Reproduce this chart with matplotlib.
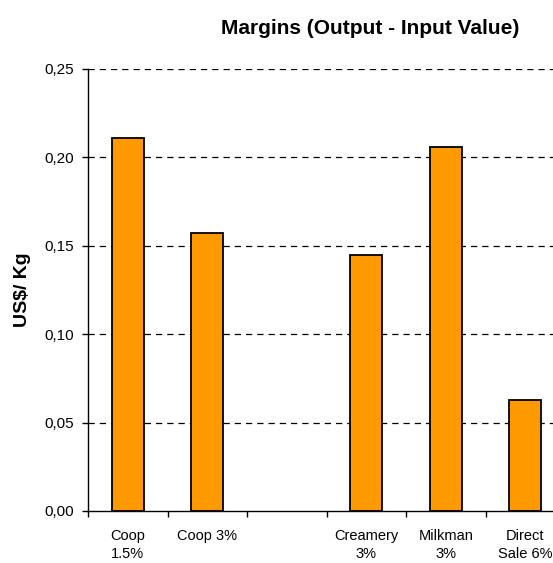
import numpy as np
import matplotlib.pyplot as plt
from matplotlib.ticker import FuncFormatter

plt.rcParams['font.family'] = ['Liberation Sans', 'DejaVu Sans']

# Margin per channel (US$/Kg); the empty slot keeps the gap between groups
categories = ["Coop\n1.5%", "Coop 3%", "", "Creamery\n3%", "Milkman\n3%", "Direct\nSale 6%"]
margins = [0.211, 0.157, np.nan, 0.145, 0.206, 0.063]
y_ticks = [0.00, 0.05, 0.10, 0.15, 0.20, 0.25]

fig = plt.figure(figsize=(5.53, 5.63), dpi=100)
# axes runs past the right edge of the figure
ax = fig.add_axes([88 / 553, 52 / 563, 477 / 553, 442 / 563])

x = np.arange(len(categories))
vals = np.nan_to_num(margins)
mask = ~np.isnan(margins)
ax.bar(x[mask], vals[mask], width=0.4, color="#ff9900", edgecolor="black", linewidth=1.3, zorder=3)

ax.set_xlim(-0.5, len(categories) - 0.5)
ax.set_ylim(0, 0.25)
ax.set_yticks(y_ticks)
ax.yaxis.set_major_formatter(FuncFormatter(lambda v, p: f"{v:.2f}".replace(".", ",")))
for y in y_ticks[1:]:
    ax.axhline(y, color="black", linestyle=(0, (5, 4)), linewidth=0.9, zorder=1)

# category labels centred, ticks between categories
ax.set_xticks(np.arange(len(categories) + 1) - 0.5)
ax.set_xticklabels([])
ax.set_xticks(x, minor=True)
ax.set_xticklabels(categories, minor=True, fontsize=10.5, linespacing=1.4)
ax.tick_params(axis="x", which="minor", length=0, pad=13)
ax.tick_params(axis="x", which="major", length=4, width=1, direction="out")
ax.tick_params(axis="y", length=4, width=1, labelsize=11, pad=6)

for s in ["top", "right"]:
    ax.spines[s].set_visible(False)
ax.spines["left"].set_linewidth(1)
ax.spines["bottom"].set_linewidth(1)

ax.set_ylabel("US$/ Kg", fontsize=14, fontweight="bold", labelpad=10)
fig.text(370 / 553, 1 - 28 / 563, "Margins (Output - Input Value)", ha="center", va="center",
         fontsize=15, fontweight="bold")

fig.savefig("out.png", dpi=100)
